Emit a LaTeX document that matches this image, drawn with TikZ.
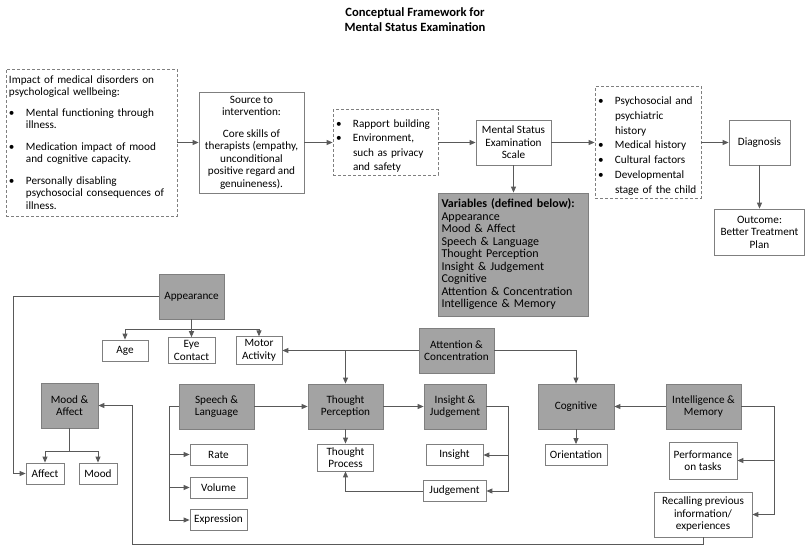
\documentclass[tikz,border=0pt]{standalone}
\usepackage{fontspec}
\setmainfont{Carlito}
\usetikzlibrary{arrows.meta,positioning}
\setlength{\parindent}{0pt}
\definecolor{linegrey}{HTML}{595959}
\definecolor{boxgrey}{HTML}{A3A3A3}
\definecolor{edgegrey}{HTML}{7F7F7F}
\tikzset{
    box/.style={draw=edgegrey,line width=0.8pt,inner sep=3pt,align=center,font=\fontsize{11.2}{12.5}\selectfont},
    greybox/.style={box,fill=boxgrey,minimum width=75pt,minimum height=45pt},
    smallbox/.style={box,minimum height=21pt},
    dashbox/.style={box,dash pattern=on 3pt off 2pt,align=left},
    pre/.style={-{Triangle[length=6pt,width=5pt]},draw=linegrey,line width=0.9pt},
    bi/.style={-,draw=linegrey,line width=0.9pt}
}
\newcommand{\bitem}[1]{\par\hangindent=17pt\hangafter=1\noindent\makebox[17pt][l]{\textbullet}#1\par}

\begin{document}
\begin{tikzpicture}[x=1pt,y=-1pt]
    \useasboundingbox (0,0) rectangle (811,547);

    \node[font=\bfseries\fontsize{12.6}{15}\selectfont,align=center] (title) at (415,20) {Conceptual Framework for\\Mental Status Examination};

    % top row
    \node[dashbox,text width=165pt,minimum height=147pt] (impact) at (91.5,142.5) {Impact of medical disorders on\newline psychological wellbeing:\par\vspace{8pt}
        \bitem{Mental functioning through\newline illness.}\vspace{9pt}
        \bitem{Medication impact of mood\newline and cognitive capacity.}\vspace{9pt}
        \bitem{Personally disabling\newline psychosocial consequences of\newline illness.}};
    \node[box,minimum width=105pt,minimum height=101pt] (source) at (251.5,142.5) {Source to\\intervention:\\[9pt]Core skills of\\therapists (empathy,\\unconditional\\positive regard and\\genuineness).};
    \node[dashbox,text width=99pt,minimum height=63pt,font=\fontsize{11.2}{14.5}\selectfont] (rapport) at (385.5,142.5) {\bitem{Rapport building}\bitem{Environment,\newline such as privacy\newline and safety}};
    \node[box,minimum width=75pt,minimum height=45pt] (mse) at (513.5,142.5) {Mental Status\\Examination\\Scale};
    \node[dashbox,text width=100pt,minimum height=109pt,font=\fontsize{11.2}{14.8}\selectfont] (history) at (648,142.5) {\bitem{Psychosocial and\newline psychiatric\newline history}\bitem{Medical history}\bitem{Cultural factors}\bitem{Developmental\newline stage of the child}};
    \node[box,minimum width=61pt,minimum height=45pt] (diagnosis) at (759.5,142.5) {Diagnosis};
    \node[box,minimum width=90pt,minimum height=46pt] (outcome) at (759.5,232) {Outcome:\\Better Treatment\\Plan};
    \node[box,fill=boxgrey,align=left,text width=144pt,minimum height=123pt,font=\fontsize{12}{12.5}\selectfont] (variables) at (513.5,254.5) {\textbf{Variables (defined below):}\\Appearance\\Mood \& Affect\\Speech \& Language\\Thought Perception\\Insight \& Judgement\\Cognitive\\Attention \& Concentration\\Intelligence \& Memory};

    \draw[pre] (impact) -- (source);
    \draw[pre] (source) -- (rapport);
    \draw[pre] (rapport) -- (mse);
    \draw[pre] (mse) -- (history);
    \draw[pre] (history) -- (diagnosis);
    \draw[pre] (diagnosis) -- (outcome);
    \draw[pre] (mse) -- (variables);

    % variables
    \node[greybox,minimum width=65pt] (appearance) at (191.5,296.5) {Appearance};
    \node[smallbox,minimum width=46pt] (age) at (125,350.5) {Age};
    \node[smallbox,minimum width=47pt] (eye) at (191.5,350.5) {Eye\\Contact};
    \node[smallbox,minimum width=46pt] (motor) at (259,350.5) {Motor\\Activity};
    \node[greybox] (attention) at (456.5,350.5) {Attention \&\\Concentration};
    \node[greybox,minimum width=57pt] (moodaffect) at (69.5,405.5) {Mood \&\\Affect};
    \node[smallbox,minimum width=38pt] (affect) at (45,473.5) {Affect};
    \node[smallbox,minimum width=38pt] (mood) at (98,473.5) {Mood};
    \node[greybox] (speech) at (216.5,406.5) {Speech \&\\Language};
    \node[smallbox,minimum width=57pt] (rate) at (218.5,454.5) {Rate};
    \node[smallbox,minimum width=57pt] (volume) at (218.5,487.5) {Volume};
    \node[smallbox,minimum width=57pt] (expression) at (218.5,520) {Expression};
    \node[greybox] (perception) at (345.5,406.5) {Thought\\Perception};
    \node[smallbox,minimum width=56pt,minimum height=27pt] (process) at (345.5,457.5) {Thought\\Process};
    \node[greybox,minimum width=62pt] (insjudge) at (455,406.5) {Insight \&\\Judgement};
    \node[smallbox,minimum width=57pt] (insight) at (454.5,455) {Insight};
    \node[smallbox,minimum width=63pt] (judgement) at (454.5,491) {Judgement};
    \node[greybox,minimum width=76pt] (cognitive) at (576,406.5) {Cognitive};
    \node[smallbox,minimum width=62pt] (orientation) at (576,455) {Orientation};
    \node[greybox] (intelligence) at (703.5,406.5) {Intelligence \&\\Memory};
    \node[smallbox,minimum width=68pt,minimum height=37pt] (performance) at (703,460.5) {Performance\\on tasks};
    \node[smallbox,minimum width=98pt,minimum height=45pt] (recalling) at (703,514.5) {Recalling previous\\information/\\experiences};

    \coordinate (app bar) at (191.5,329);
    \coordinate (ma bar) at (69.5,451);
    \coordinate (back turn) at (132,405.5);

    \draw[bi] (appearance) -- (app bar);
    \draw[pre] (app bar) -| (age);
    \draw[pre] (app bar) -- (eye);
    \draw[pre] (app bar) -| (motor);
    \draw[pre] (appearance.west) -- ++(-145,0) |- (affect);
    \draw[pre] (attention) -- (motor);
    \draw[pre] (attention.west -| perception.north) -- (perception);
    \draw[pre] (attention) -| (cognitive);
    \draw[bi] (moodaffect) -- (ma bar);
    \draw[pre] (ma bar) -| (affect);
    \draw[pre] (ma bar) -| (mood);
    \draw[pre] (speech.west) -- ++(-9,0) |- (rate);
    \draw[pre] (speech.west) -- ++(-9,0) |- (volume);
    \draw[pre] (speech.west) -- ++(-9,0) |- (expression);
    \draw[pre] (speech) -- (perception);
    \draw[pre] (perception) -- (insjudge);
    \draw[pre] (perception) -- (process);
    \draw[pre] (insjudge.east) -- ++(22,0) |- (insight);
    \draw[pre] (insjudge.east) -- ++(22,0) |- (judgement);
    \draw[pre] (judgement) -| (process);
    \draw[pre] (cognitive) -- (orientation);
    \draw[pre] (intelligence) -- (cognitive);
    \draw[pre] (intelligence.east) -- ++(33,0) |- (performance);
    \draw[pre] (intelligence.east) -- ++(33,0) |- (recalling);
    \draw[pre] (recalling.south) -- ++(0,7) -| (back turn) -- (moodaffect);
\end{tikzpicture}
\end{document}
